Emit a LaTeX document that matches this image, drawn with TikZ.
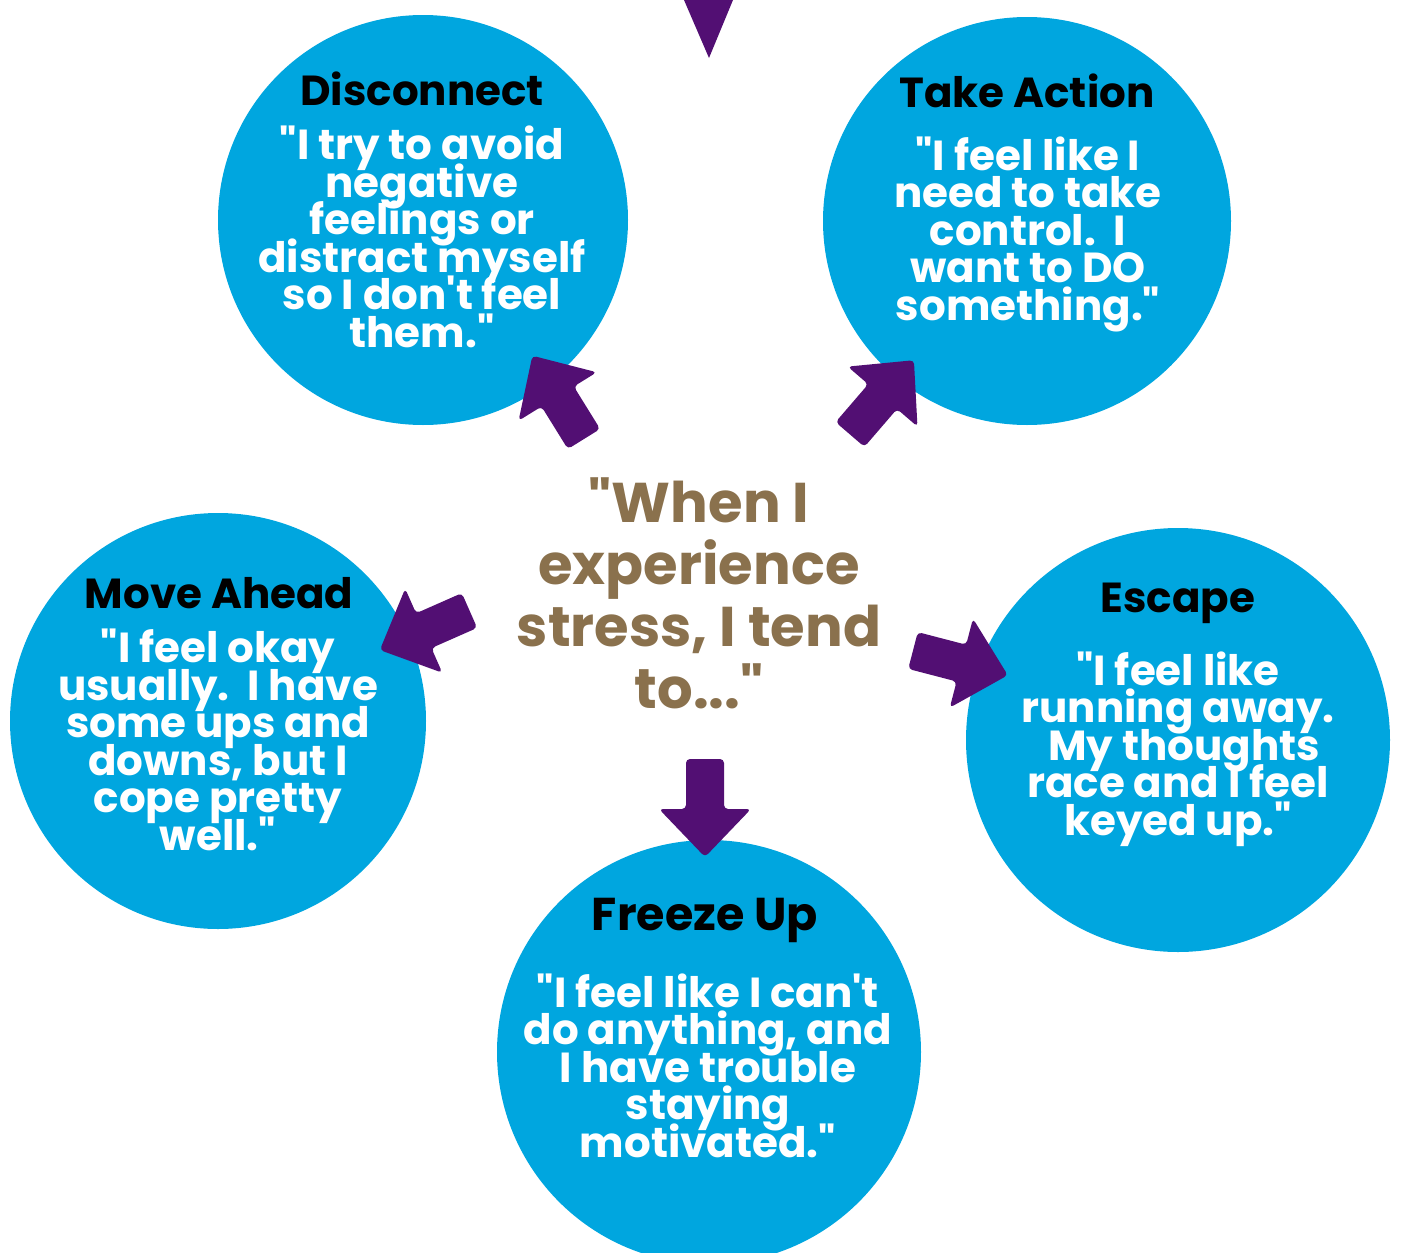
\documentclass[tikz,border=0pt]{standalone}
\usepackage{fontspec}
\newfontfamily\popp{Poppins}
\newcommand\tightlns{\lineskiplimit=-100pt\relax}
\definecolor{circblue}{HTML}{00A6DF}
\definecolor{arrpurple}{HTML}{520F73}
\definecolor{stressbrown}{HTML}{8A714D}
\tikzset{
  circ/.style={circle, fill=circblue, draw=none, inner sep=0pt},
  headtxt/.style={anchor=base, inner sep=0pt, text=black, font=\popp\bfseries\fontsize{42}{42}\selectfont},
  bodytxt/.style={anchor=base, inner sep=0pt, align=center, text=white, font=\popp\bfseries\fontsize{42}{37.5}\selectfont\tightlns},
  centertxt/.style={anchor=base, inner sep=0pt, align=center, text=stressbrown, font=\popp\bfseries\fontsize{56}{62}\selectfont\tightlns},
  blockarrow/.pic={\fill[arrpurple, rounded corners=4pt] (0,-19) -- (50,-19) -- (50,-46) -- (98,0) -- (50,46) -- (50,19) -- (0,19) -- cycle;}
}
\begin{document}
\begin{tikzpicture}[x=1pt,y=-1pt]
\useasboundingbox (0,0) rectangle (1401,1253);
\begin{scope}
\clip (0,0) rectangle (1401,1253);
\node[circ, minimum size=410pt] (disc) at (423,220) {};
\node[circ, minimum size=408pt] (take) at (1027,221) {};
\node[circ, minimum size=416pt] (move) at (218,721) {};
\node[circ, minimum size=424pt] (esc) at (1178,740) {};
\node[circ, minimum size=424pt] (frz) at (709,1052) {};
\end{scope}
% top arrow tip
\coordinate (topl) at (684,0);
\coordinate (topr) at (733,0);
\coordinate (toptip) at (709,58);
\fill[arrpurple] (topl) -- (topr) -- (toptip) -- cycle;
% block arrows
\pic[rotate=121.8] at (584,439) {blockarrow};
\pic[rotate=49.3] at (850,434.5) {blockarrow};
\pic[rotate=203.8] at (469.5,610.5) {blockarrow};
\pic[rotate=-14.6] at (913,650.5) {blockarrow};
\pic[rotate=-90] at (705,759) {blockarrow};
% centre text (anchor = baseline of last line)
\node[centertxt] (stress) at (699,708) {"When I\\experience\\stress, I tend\\to..."};
% Disconnect
\node[headtxt] (disch) at (422,105) {Disconnect};
\node[bodytxt] (discb) at (422,347) {"I try to avoid\\negative\\feelings or\\distract myself\\so I don't feel\\them."};
% Take Action
\node[headtxt] (takeh) at (1027,107) {Take Action};
\node[bodytxt] (takeb) at (1028,320) {"I feel like I\\need to take\\control.~~I\\want to DO\\something."};
% Move Ahead
\node[headtxt] (moveh) at (219,608) {Move Ahead};
\node[bodytxt] (moveb) at (218,850) {"I feel okay\\usually.~~I have\\some ups and\\downs, but I\\cope pretty\\well."};
% Escape
\node[headtxt] (esch) at (1178,612) {Escape};
\node[bodytxt] (escb) at (1178,835) {"I feel like\\running away.\\\hspace*{12pt}My thoughts\\race and I feel\\keyed up."};
% Freeze Up
\node[headtxt, font=\popp\bfseries\fontsize{46}{46}\selectfont] (frzh) at (705,930) {Freeze Up};
\node[bodytxt] (frzb) at (708,1157) {"I feel like I can't\\do anything, and\\I have trouble\\staying\\motivated."};
\end{tikzpicture}
\end{document}
